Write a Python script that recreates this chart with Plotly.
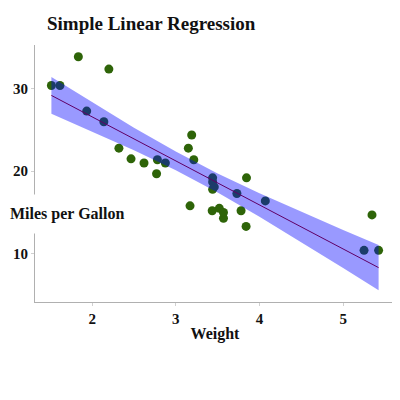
import plotly.graph_objects as go

# mtcars: weight (1000 lbs) vs miles per gallon
weight = [2.620, 2.875, 2.320, 3.215, 3.440, 3.460, 3.570, 3.190, 3.150, 3.440,
          3.440, 4.070, 3.730, 3.780, 5.250, 5.424, 5.345, 2.200, 1.615, 1.835,
          2.465, 3.520, 3.435, 3.840, 3.845, 1.935, 2.140, 1.513, 3.170, 2.770,
          3.570, 2.780]
mpg = [21.0, 21.0, 22.8, 21.4, 18.7, 18.1, 14.3, 24.4, 22.8, 19.2,
       17.8, 16.4, 17.3, 15.2, 10.4, 10.4, 14.7, 32.4, 30.4, 33.9,
       21.5, 15.5, 15.2, 13.3, 19.2, 27.3, 26.0, 30.4, 15.8, 19.7,
       15.0, 21.4]

# fitted line and confidence band
band_x = [1.513, 2.0, 2.5, 3.0, 3.5, 4.0, 4.5, 5.0, 5.424]
fit_y = [29.20, 26.60, 23.92, 21.25, 18.58, 15.91, 13.24, 10.56, 8.30]
band_lo = [26.97, 24.83, 22.55, 20.12, 17.43, 14.49, 11.41, 8.25, 5.55]
band_hi = [31.43, 28.37, 25.29, 22.38, 19.72, 17.32, 15.07, 12.88, 11.05]

font = "Liberation Serif"
txt = dict(family=font, size=15, color="#111111", weight="bold")
label = dict(family=font, size=16, color="#111111", weight="bold")

fig = go.Figure()
fig.add_trace(go.Scatter(x=weight, y=mpg, mode="markers",
                         marker=dict(color="#2e6408", size=9)))
fig.add_trace(go.Scatter(x=band_x, y=fit_y, mode="lines",
                         line=dict(color="#a00000", width=1)))
fig.add_trace(go.Scatter(x=band_x + band_x[::-1], y=band_hi + band_lo[::-1],
                         mode="lines", fill="toself", line=dict(width=0),
                         fillcolor="rgba(0,0,255,0.4)"))

axis_style = dict(showline=True, linecolor="#b0b0b0", linewidth=1,
                  showgrid=False, zeroline=False, ticks="outside",
                  ticklen=3, tickcolor="#d0d0d0", tickfont=txt)

fig.update_xaxes(range=[1.317, 5.62], tickvals=[2, 3, 4, 5],
                 title=dict(text="Weight", standoff=1, font=label),
                 **axis_style)
fig.update_yaxes(range=[4.13, 35.32], tickvals=[10, 20, 30], **axis_style)

fig.add_annotation(text="Miles per Gallon", xref="paper", yref="y",
                   x=0.0889, y=14.85, xanchor="center", yanchor="middle",
                   showarrow=False, bgcolor="white", borderpad=10, font=label)

# page adds an 8px body margin, so the figure is 392px and shifted up/left
fig.update_layout(
    width=392, height=392,
    margin=dict(l=27, r=5, t=37, b=98),
    plot_bgcolor="white", paper_bgcolor="white",
    showlegend=False,
    title=dict(text="Simple Linear Regression", x=39 / 392, xanchor="left",
               y=1 - 15 / 392, yanchor="middle",
               font=dict(family=font, size=19, color="#111111", weight="bold")),
)

fig.write_html("out.html")
